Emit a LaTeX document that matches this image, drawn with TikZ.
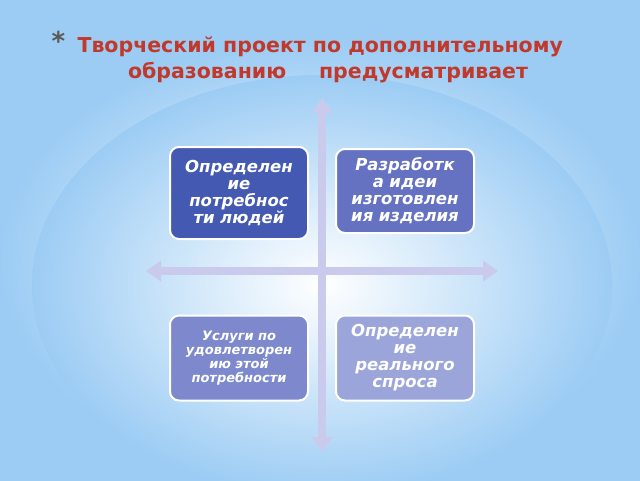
\documentclass[tikz,border=0pt]{standalone}
\usepackage{fontspec}
\setmainfont{DejaVu Sans}
\usetikzlibrary{arrows.meta}
\definecolor{bgblue}{HTML}{9CCCF4}
\definecolor{titlered}{HTML}{C0392B}
\definecolor{arr}{HTML}{CACAEC}
\definecolor{bA}{HTML}{4459B2}
\definecolor{bB}{HTML}{6572C2}
\definecolor{bC}{HTML}{7D89CC}
\definecolor{bD}{HTML}{9CA5DA}
\tikzset{
  box/.style={draw=white,line width=2pt,rounded corners=9pt,minimum width=138pt,text width=130pt,align=center,text=white,font=\bfseries\itshape\fontsize{16.5}{17}\selectfont},
  smallbox/.style={box,font=\bfseries\itshape\fontsize{13}{14}\selectfont},
  arrw/.style={line width=8pt,arr,{Triangle[width=20pt,length=15pt]}-{Triangle[width=20pt,length=15pt]}},
  ttl/.style={text=titlered,font=\bfseries\fontsize{20.5}{22}\selectfont}
}
\begin{document}
\begin{tikzpicture}[x=1pt,y=-1pt]
\useasboundingbox (0,0) rectangle (640,480);
\fill[bgblue] (0,0) rectangle (640,480);
\shade[inner color=white,outer color=bgblue] (0,40) rectangle (640,480);
\shade[inner color=white,outer color=bgblue] (322,285) ellipse (290 and 210);
\node[ttl,text=gray!70!black,anchor=west] (star) at (48,41) {\fontsize{26}{26}\selectfont*};
\node[ttl,anchor=west] (t1) at (74,47) {Творческий проект по дополнительному};
\node[ttl] (t2) at (328,73) {образованию\hspace{1.6em}предусматривает};
\coordinate (vt) at (322,98);
\coordinate (vb) at (322,452);
\coordinate (hl) at (146,271);
\coordinate (hr) at (498,271);
\draw[arrw] (vt) -- (vb);
\draw[arrw] (hl) -- (hr);
\node[box,fill=bA,minimum height=92pt] (a) at (239,193) {Определен\\ие\\потребнос\\ти людей};
\node[box,fill=bB,minimum height=84pt] (b) at (405,191) {Разработк\\а идеи\\изготовлен\\ия изделия};
\node[smallbox,fill=bC,minimum height=85pt] (c) at (239,358) {Услуги по\\удовлетворен\\ию этой\\потребности};
\node[box,fill=bD,minimum height=85pt] (d) at (405,358) {Определен\\ие\\реального\\спроса};
\end{tikzpicture}
\end{document}
